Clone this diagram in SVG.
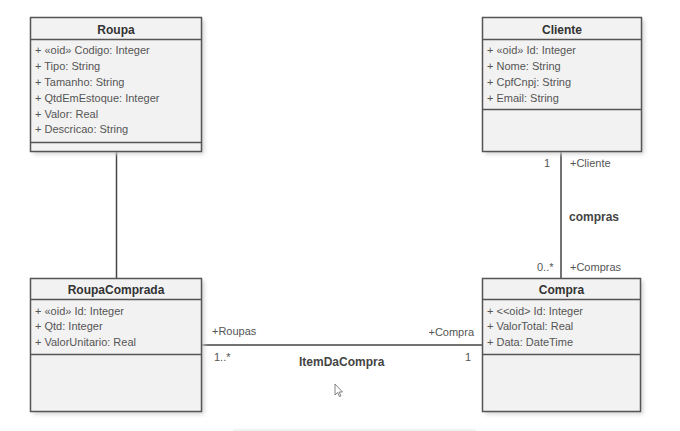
<svg xmlns="http://www.w3.org/2000/svg" width="680" height="431" viewBox="0 0 680 431">
<defs>
<filter id="sh" x="-10%" y="-10%" width="130%" height="130%">
<feGaussianBlur stdDeviation="2"/>
</filter>
</defs>
<style>
.box{fill:#f2f2f2;stroke:#555;stroke-width:1.5}
.shadow{fill:#d0d0d0;filter:url(#sh)}
.div{stroke:#555;stroke-width:1.5}
.title{font-family:"Liberation Sans","DejaVu Sans",sans-serif;font-size:12px;font-weight:bold;fill:#333;text-anchor:middle}
.attr{font-family:"Liberation Sans","DejaVu Sans",sans-serif;font-size:11px;fill:#555}
.lbl{font-family:"Liberation Sans","DejaVu Sans",sans-serif;font-size:11px;fill:#555}
.assoc{font-family:"Liberation Sans","DejaVu Sans",sans-serif;font-size:12px;font-weight:bold;fill:#444}
.conn{stroke:#444;stroke-width:1.5;fill:none}
</style>
<rect width="680" height="431" fill="#fff"/>
<g id="connectors">
<line class="conn" x1="116.5" y1="151.5" x2="116.5" y2="278.5"/>
<line class="conn" x1="561" y1="151.5" x2="561" y2="278.5"/>
<line class="conn" x1="201.5" y1="345" x2="482.5" y2="345"/>
<text class="lbl" x="544" y="167">1</text>
<text class="lbl" x="570" y="167">+Cliente</text>
<text class="assoc" x="569" y="221">compras</text>
<text class="lbl" x="537" y="271">0..*</text>
<text class="lbl" x="570" y="271">+Compras</text>
<text class="lbl" x="212" y="335">+Roupas</text>
<text class="lbl" x="214" y="361">1..*</text>
<text class="lbl" x="474" y="336" text-anchor="end">+Compra</text>
<text class="lbl" x="465" y="361">1</text>
<text class="assoc" x="299" y="366">ItemDaCompra</text>
</g>
<g id="Roupa">
<rect class="shadow" x="33" y="20" width="171" height="134"/>
<rect class="box" x="30.5" y="17.5" width="171" height="134"/>
<line class="div" x1="30.5" y1="39.5" x2="201.5" y2="39.5"/>
<line class="div" x1="30.5" y1="142.5" x2="201.5" y2="142.5"/>
<text class="title" x="116" y="34">Roupa</text>
<text class="attr" x="35" y="54">+ «oid» Codigo: Integer</text>
<text class="attr" x="35" y="70">+ Tipo: String</text>
<text class="attr" x="35" y="86">+ Tamanho: String</text>
<text class="attr" x="35" y="102">+ QtdEmEstoque: Integer</text>
<text class="attr" x="35" y="118">+ Valor: Real</text>
<text class="attr" x="35" y="133">+ Descricao: String</text>
</g>
<g id="Cliente">
<rect class="shadow" x="485" y="20" width="159" height="134"/>
<rect class="box" x="482.5" y="17.5" width="159" height="134"/>
<line class="div" x1="482.5" y1="39.5" x2="641.5" y2="39.5"/>
<line class="div" x1="482.5" y1="109.5" x2="641.5" y2="109.5"/>
<text class="title" x="562" y="34">Cliente</text>
<text class="attr" x="487" y="54">+ «oid» Id: Integer</text>
<text class="attr" x="487" y="70">+ Nome: String</text>
<text class="attr" x="487" y="86">+ CpfCnpj: String</text>
<text class="attr" x="487" y="102">+ Email: String</text>
</g>
<g id="RoupaComprada">
<rect class="shadow" x="33" y="281" width="171" height="133"/>
<rect class="box" x="30.5" y="278.5" width="171" height="133"/>
<line class="div" x1="30.5" y1="299.5" x2="201.5" y2="299.5"/>
<line class="div" x1="30.5" y1="354.5" x2="201.5" y2="354.5"/>
<text class="title" x="116" y="294">RoupaComprada</text>
<text class="attr" x="35" y="315">+ «oid» Id: Integer</text>
<text class="attr" x="35" y="330">+ Qtd: Integer</text>
<text class="attr" x="35" y="346">+ ValorUnitario: Real</text>
</g>
<g id="Compra">
<rect class="shadow" x="485" y="281" width="158" height="133"/>
<rect class="box" x="482.5" y="278.5" width="158" height="133"/>
<line class="div" x1="482.5" y1="299.5" x2="640.5" y2="299.5"/>
<line class="div" x1="482.5" y1="354.5" x2="640.5" y2="354.5"/>
<text class="title" x="561.5" y="294">Compra</text>
<text class="attr" x="487" y="315">+ &lt;&lt;oid&gt; Id: Integer</text>
<text class="attr" x="487" y="330">+ ValorTotal: Real</text>
<text class="attr" x="487" y="346">+ Data: DateTime</text>
</g>
<path d="M335 384 L335 395 L337.5 392.5 L339.5 396.5 L341 396 L339 392 L342.5 392 Z" fill="#fff" stroke="#666" stroke-width="0.8"/>
<line x1="233" y1="430" x2="476" y2="430" stroke="#e6e6e6" stroke-width="1"/>
</svg>
